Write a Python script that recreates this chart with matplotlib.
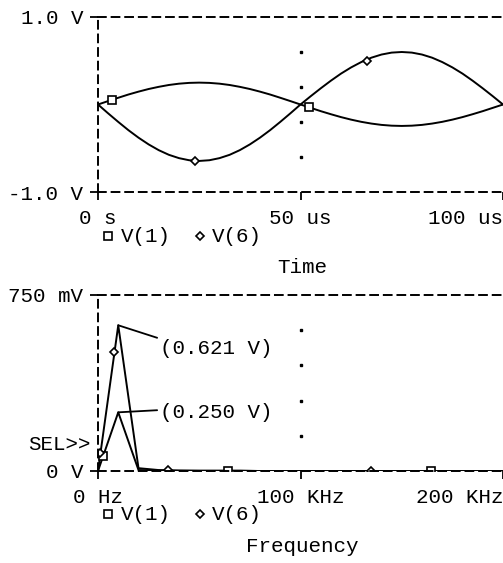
import numpy as np
import matplotlib
matplotlib.use('Agg')
import matplotlib.pyplot as plt
from matplotlib.lines import Line2D

# ---- transient analysis (time in us, volts) ----
t_us = [0, 2.5, 5, 7.5, 10, 12.5, 15, 17.5, 20, 22.5, 25, 27.5, 30, 32.5, 35, 37.5,
        40, 42.5, 45, 47.5, 50, 52.5, 55, 57.5, 60, 62.5, 65, 67.5, 70, 72.5, 75,
        77.5, 80, 82.5, 85, 87.5, 90, 92.5, 95, 97.5, 100]
v1 = [0.000, 0.039, 0.077, 0.114, 0.147, 0.177, 0.202, 0.223, 0.238, 0.247, 0.250,
      0.247, 0.238, 0.223, 0.202, 0.177, 0.147, 0.114, 0.077, 0.039, 0.000,
      -0.038, -0.076, -0.111, -0.144, -0.173, -0.198, -0.218, -0.233, -0.242, -0.245,
      -0.242, -0.233, -0.218, -0.198, -0.173, -0.144, -0.111, -0.076, -0.038, 0.000]
v6 = [0.000, -0.101, -0.199, -0.293, -0.379, -0.456, -0.522, -0.575, -0.613, -0.637, -0.645,
      -0.637, -0.613, -0.575, -0.522, -0.456, -0.379, -0.293, -0.199, -0.101, 0.000,
      0.094, 0.185, 0.272, 0.353, 0.424, 0.485, 0.535, 0.571, 0.593, 0.600,
      0.593, 0.571, 0.535, 0.485, 0.424, 0.353, 0.272, 0.185, 0.094, 0.000]
v1_mark_t = [3.4, 52]
v1_mark_v = [0.053, -0.031]
v6_mark_t = [24, 66.5]
v6_mark_v = [-0.644, 0.50]

# ---- FFT (frequency in kHz, volts) ----
f_khz = [0, 10, 20, 30, 40, 50, 60, 70, 80, 90, 100, 110, 120, 130, 140, 150,
         160, 170, 180, 190, 200]
v1_fft = [0.000, 0.250, 0.004, 0.002, 0.001, 0.001, 0.001, 0.001, 0.000, 0.000, 0.000,
          0.000, 0.000, 0.000, 0.000, 0.000, 0.000, 0.000, 0.000, 0.000, 0.000]
v6_fft = [0.000, 0.621, 0.012, 0.004, 0.002, 0.001, 0.001, 0.001, 0.000, 0.000, 0.000,
          0.000, 0.000, 0.000, 0.000, 0.000, 0.000, 0.000, 0.000, 0.000, 0.000]
v1_fmark_f = [2.5, 64, 164.5]
v1_fmark_v = [0.062, 0.001, 0.0]
v6_fmark_f = [1.2, 8.1, 34.5, 135]
v6_fmark_v = [0.075, 0.505, 0.003, 0.0]

top_xticks = [0, 50, 100]
top_xlabels = ['0 s', '50 us', '100 us']
top_yticks = [-1.0, 1.0]
top_ylabels = ['-1.0 V', '1.0 V']
bot_xticks = [0, 100, 200]
bot_xlabels = ['0 Hz', '100 KHz', '200 KHz']
bot_yticks = [0, 0.75]
bot_ylabels = ['0 V', '750 mV']

W, H = 503, 563
FONT = 'Liberation Mono'
FS = 15
plt.rcParams['font.family'] = [FONT, 'DejaVu Sans Mono']
plt.rcParams['font.size'] = FS

fig = plt.figure(figsize=(W / 100, H / 100), dpi=100)
fig.patch.set_facecolor('white')


def px(x, y):
    return x / W, 1 - y / H


def style_axes(ax, xt, xl, yt, yl):
    for s in ['top', 'bottom', 'left']:
        ax.spines[s].set_linestyle((0, (4, 3)))
        ax.spines[s].set_linewidth(1.4)
    ax.spines['right'].set_visible(False)
    ax.set_xticks(xt)
    ax.set_xticklabels(xl)
    ax.set_yticks(yt)
    ax.set_yticklabels(yl)
    ax.tick_params(direction='out', length=5.5, width=1.3, labelsize=FS)
    ax.tick_params(axis='x', pad=7)
    ax.tick_params(axis='y', pad=5)
    # last x label kept inside the plot
    ax.get_xticklabels()[-1].set_ha('right')
    ax.patch.set_alpha(0)


def legend_row(y):
    x0, y0 = px(108, y)
    fig.add_artist(Line2D([x0], [y0], marker='s', ms=5.5, mfc='white', mec='black', mew=1.2))
    fig.text(*px(121, y), 'V(1)', ha='left', va='center')
    x1, y1 = px(200, y)
    fig.add_artist(Line2D([x1], [y1], marker='D', ms=4.5, mfc='white', mec='black', mew=1.2))
    fig.text(*px(212, y), 'V(6)', ha='left', va='center')


# top chart: time domain
ax1 = fig.add_axes([98 / W, 1 - 192 / H, 405 / W, 175 / H])
ax1.plot(t_us, v1, color='black', lw=1.4)
ax1.plot(t_us, v6, color='black', lw=1.4)
ax1.plot(v1_mark_t, v1_mark_v, ls='none', marker='s', ms=5.5, mfc='white', mec='black', mew=1.2)
ax1.plot(v6_mark_t, v6_mark_v, ls='none', marker='D', ms=4.5, mfc='white', mec='black', mew=1.2)
ax1.plot(np.full(4, 50), np.arange(-0.6, 0.7, 0.4), ls='none', marker='s', ms=2, color='black')
ax1.set_xlim(0, 100)
ax1.set_ylim(-1, 1)
style_axes(ax1, top_xticks, top_xlabels, top_yticks, top_ylabels)

legend_row(236)
fig.text(*px(302, 267), 'Time', ha='center', va='center')

# bottom chart: FFT
ax2 = fig.add_axes([98 / W, 1 - 471 / H, 405 / W, 176 / H])
ax2.plot(f_khz, v1_fft, color='black', lw=1.4)
ax2.plot(f_khz, v6_fft, color='black', lw=1.4)
ax2.plot(v1_fmark_f, v1_fmark_v, ls='none', marker='s', ms=5.5, mfc='white', mec='black', mew=1.2)
ax2.plot(v6_fmark_f, v6_fmark_v, ls='none', marker='D', ms=4.5, mfc='white', mec='black', mew=1.2)
ax2.plot(np.full(4, 100), np.arange(0.15, 0.7, 0.15), ls='none', marker='s', ms=2, color='black')
ax2.set_xlim(0, 200)
ax2.set_ylim(0, 0.75)
style_axes(ax2, bot_xticks, bot_xlabels, bot_yticks, bot_ylabels)

ax2.annotate('(%.3f V)' % v6_fft[1], xy=(f_khz[1], v6_fft[1]), xytext=(30, -16.5),
             textcoords='offset points', ha='left', va='center',
             arrowprops=dict(arrowstyle='-', lw=1.3, color='black', shrinkA=0, shrinkB=0,
                             relpos=(0, 1)))
ax2.annotate('(%.3f V)' % v1_fft[1], xy=(f_khz[1], v1_fft[1]), xytext=(30, 0),
             textcoords='offset points', ha='left', va='center',
             arrowprops=dict(arrowstyle='-', lw=1.3, color='black', shrinkA=0, shrinkB=0,
                             relpos=(0, 0.62)))

fig.text(*px(91, 445), 'SEL>>', ha='right', va='center')
legend_row(514)
fig.text(*px(302, 546), 'Frequency', ha='center', va='center')

fig.savefig('out.png', dpi=100)
